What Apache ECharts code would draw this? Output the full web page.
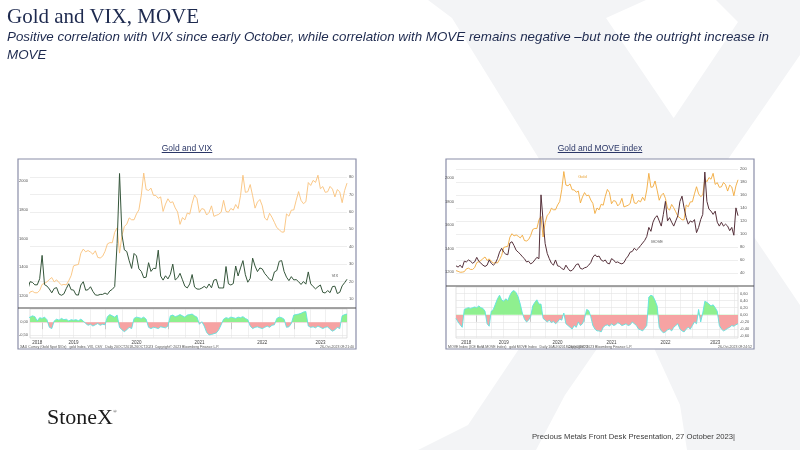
<!DOCTYPE html>
<html lang="en">
<head>
    <meta charset="UTF-8">
    <meta name="viewport" content="width=device-width, initial-scale=1.0">
    <title>Gold and VIX, MOVE</title>
    <script src="https://cdn.jsdelivr.net/npm/echarts@6.0.0/dist/echarts.min.js"></script>
    <style>
        * {
            box-sizing: border-box;
            margin: 0;
            padding: 0;
        }

        body {
            width: 800px;
            height: 450px;
            overflow: hidden;
            background: #fff;
            position: relative;
            font-family: 'Liberation Sans', Arial, sans-serif;
        }

        #chart {
            position: absolute;
            left: 0;
            top: 0;
            width: 800px;
            height: 450px;
        }

        .txt {
            position: absolute;
            white-space: nowrap;
            z-index: 2;
        }

        .title {
            left: 7px;
            top: 4px;
            font-family: 'Liberation Serif', serif;
            font-size: 21px;
            color: #1e2a4f;
        }

        .subtitle {
            display: inline-block;
            left: 7px;
            top: 28px;
            font-style: italic;
            font-size: 13.5px;
            line-height: 18px;
            color: #1e2a4f;
            transform-origin: 0 0;
        }

        .ctitle {
            top: 143px;
            font-size: 8.5px;
            color: #2b3767;
            text-decoration: underline;
            transform: translateX(-50%);
        }

        .logo {
            left: 47px;
            top: 404px;
            font-family: 'Liberation Serif', serif;
            font-size: 22px;
            color: #1b1b1b;
        }

        .logo sup {
            font-size: 5px;
            vertical-align: top;
            position: relative;
            top: 5px;
        }

        .footer {
            display: inline-block;
            left: 532px;
            top: 432px;
            font-size: 8px;
            color: #3a3a3a;
            transform-origin: 0 0;
        }
    </style>
</head>
<body>
    <div id="chart"></div>
    <div class="txt title">Gold and VIX, MOVE</div>
    <div class="txt subtitle" id="subtitle">Positive correlation with VIX since early October, while correlation with MOVE remains negative –but note the outright increase in<br>MOVE</div>
    <div class="txt ctitle" style="left:187px">Gold and VIX</div>
    <div class="txt ctitle" style="left:600px">Gold and MOVE index</div>
    <div class="txt logo">StoneX<sup>®</sup></div>
    <div class="txt footer" id="footer">Precious Metals Front Desk Presentation, 27 October 2023|</div>

    <script>
        // fortnightly observations, 10 Aug 2018 .. 27 Oct 2023
        const gold = [
            1212, 1206, 1198, 1199, 1203, 1227, 1233, 1222, 1222, 1238,
            1280, 1288, 1298, 1314, 1328, 1298, 1312, 1292, 1276, 1280,
            1277, 1305, 1341, 1409, 1415, 1419, 1497, 1526, 1507, 1516,
            1505, 1490, 1514, 1468, 1464, 1476, 1510, 1562, 1571, 1570,
            1643, 1673, 1498, 1620, 1683, 1700, 1743, 1730, 1730, 1771,
            1799, 1902, 2055, 1940, 1934, 1950, 1900, 1899, 1879, 1889,
            1788, 1839, 1876, 1849, 1855, 1813, 1784, 1698, 1745, 1729,
            1777, 1769, 1844, 1903, 1877, 1781, 1808, 1802, 1763, 1781,
            1827, 1754, 1761, 1768, 1783, 1865, 1788, 1783, 1809, 1797,
            1836, 1808, 1898, 2040, 1921, 1925, 1975, 1897, 1811, 1853,
            1871, 1827, 1742, 1727, 1775, 1747, 1712, 1675, 1661, 1644,
            1645, 1771, 1755, 1797, 1798, 1865, 1926, 1865, 1842, 1856,
            1989, 1969, 2004, 1990, 2040, 1946, 1961, 1921, 1925, 1962,
            1943, 1889, 1940, 1924, 1849, 1933, 1985
        ];

        const vix = [
            13.2, 11.9, 14.9, 11.7, 14.8, 19.9, 19.5, 18.1, 18.1, 21.6,
            35.0, 18.2, 17.4, 15.7, 13.5, 16.0, 16.5, 12.8, 12.1, 12.9,
            16.0, 18.7, 15.3, 15.1, 12.4, 12.2, 18.0, 19.9, 15.0, 15.3,
            17.0, 14.3, 12.3, 12.1, 12.6, 12.6, 13.4, 12.6, 14.6, 15.5,
            17.1, 41.9, 82.0, 46.8, 38.2, 37.2, 31.9, 27.5, 36.1, 34.7,
            27.3, 25.8, 22.2, 22.5, 30.8, 25.8, 27.6, 27.4, 38.0, 23.1,
            20.8, 23.3, 21.5, 24.1, 30.0, 20.9, 22.1, 24.7, 21.0, 17.3,
            16.3, 18.6, 24.0, 16.8, 15.7, 15.6, 16.2, 17.2, 16.2, 18.6,
            16.4, 20.8, 21.2, 16.3, 16.3, 16.3, 28.6, 18.7, 18.0, 18.8,
            28.9, 23.2, 27.8, 32.0, 23.9, 19.6, 21.8, 33.4, 28.9, 25.7,
            27.8, 27.2, 24.6, 23.0, 21.2, 20.6, 25.5, 26.3, 31.6, 32.0,
            25.8, 22.5, 20.5, 22.8, 20.9, 21.1, 19.9, 18.3, 20.0, 18.5,
            25.5, 18.7, 17.1, 15.8, 17.0, 18.0, 13.8, 13.4, 14.8, 13.6,
            17.1, 17.3, 13.1, 13.8, 17.5, 19.3, 21.3
        ];

        const move = [
            51, 49, 52, 48, 58, 57, 60, 58, 55, 57,
            64, 58, 55, 52, 50, 52, 60, 55, 52, 55,
            62, 72, 78, 72, 69, 68, 86, 88, 82, 75,
            72, 69, 65, 62, 57, 58, 54, 56, 60, 64,
            62, 160, 120, 85, 70, 62, 55, 52, 60, 51,
            50, 47, 45, 52, 47, 43, 44, 48, 53, 54,
            47, 46, 48, 49, 52, 56, 64, 68, 65, 66,
            60, 58, 60, 55, 54, 62, 60, 56, 57, 55,
            54, 56, 62, 66, 72, 73, 78, 75, 78, 82,
            86, 90, 96, 110, 104, 118, 125, 128, 120, 112,
            130, 150, 120, 125, 118, 112, 120, 128, 150, 158,
            140, 125, 115, 120, 118, 122, 102, 110, 122, 130,
            195, 150, 138, 135, 130, 135, 118, 112, 118, 112,
            115, 112, 105, 110, 98, 140, 128
        ];

        const corrVix = [
            0.05, 0.1, 0.12, 0.08, 0.15, 0.2, 0.25, 0.22, 0.05, 0.18,
            0.15, 0.2, 0.1, -0.2, -0.25, 0.05, 0.12, 0.08, 0.15, 0.1,
            0.12, 0.05, 0.1, 0.08, 0.1, 0.06, 0.12, 0.05, -0.05, -0.12,
            -0.08, -0.15, -0.1, -0.05, -0.12, -0.08, -0.1, 0.22, 0.3, 0.25,
            0.2, 0.28, -0.2, -0.3, -0.37, -0.3, -0.2, -0.25, 0.15, 0.2,
            0.18, 0.15, 0.2, 0.12, -0.2, -0.25, -0.2, -0.22, -0.25, -0.18,
            -0.2, -0.22, -0.15, 0.25, 0.28, 0.22, 0.25, 0.3, 0.25, 0.2,
            0.28, 0.3, 0.32, 0.25, 0.2, -0.08, 0.02, -0.15, -0.4, -0.5,
            -0.48, -0.45, -0.42, -0.3, -0.1, 0.12, 0.18, 0.15, 0.2, 0.18,
            0.15, 0.2, 0.18, 0.22, 0.15, 0.1, -0.15, -0.25, -0.2, -0.18,
            -0.22, -0.25, -0.2, -0.15, -0.2, -0.12, -0.1, 0.15, 0.2, 0.18,
            0.12, -0.2, -0.18, -0.05, 0.28, 0.3, 0.32, 0.35, 0.4, 0.42,
            -0.15, -0.2, -0.18, -0.22, -0.15, -0.2, -0.25, -0.2, -0.18, -0.28,
            -0.35, -0.3, -0.2, -0.25, 0.25, 0.3, 0.32
        ];

        const corrMove = [
            -0.1, -0.2, -0.28, -0.35, 0.15, 0.18, 0.2, 0.18, 0.2, 0.22,
            0.2, 0.25, 0.2, 0.18, 0.1, -0.25, -0.32, 0.1, 0.15, 0.3,
            0.45, 0.55, 0.42, 0.38, 0.45, 0.4, 0.55, 0.65, 0.68, 0.62,
            0.5, 0.3, 0.05, -0.12, -0.2, -0.15, -0.05, 0.25, 0.35, 0.42,
            0.3, 0.3, -0.1, -0.15, -0.2, -0.15, -0.22, -0.18, -0.25, -0.2,
            -0.12, -0.15, 0.05, -0.25, -0.3, -0.35, -0.4, -0.3, -0.35, -0.2,
            -0.3, -0.25, -0.1, 0.15, 0.12, -0.05, -0.3, -0.4, -0.45, -0.45,
            -0.48, -0.35, -0.3, -0.28, -0.32, -0.25, -0.3, -0.28, -0.22, -0.25,
            -0.3, -0.28, -0.25, -0.3, -0.28, -0.2, -0.25, -0.3, -0.4, -0.42,
            -0.45, -0.38, -0.3, 0.5, 0.55, 0.52, 0.4, 0.25, -0.35, -0.45,
            -0.5, -0.48, -0.42, -0.4, -0.45, -0.35, -0.3, -0.25, -0.4, -0.45,
            -0.48, -0.4, -0.35, -0.4, -0.3, -0.2, -0.25, 0.15, -0.2, 0.05,
            0.38, 0.35, 0.3, 0.25, 0.28, 0.2, 0.1, -0.3, -0.4, -0.45,
            -0.42, -0.38, -0.35, -0.3, -0.32, -0.28, -0.25
        ];

        // tick labels
        const goldTicks = [1200, 1400, 1600, 1800, 2000];
        const vixTicks = [10, 20, 30, 40, 50, 60, 70, 80];
        const moveTicks = [40, 60, 80, 100, 120, 140, 160, 180, 200];
        const corrVixTicks = [-0.5, 0];
        const corrMoveTicks = [-0.6, -0.4, -0.2, 0, 0.2, 0.4, 0.6];

        // category indexes for year separators, year labels and quarter lines
        const yearStartIdx = [10, 36, 62, 88, 114];
        const vixYearLabelIdx = [8, 23, 49, 75, 101, 125];
        const moveYearLabelIdx = [5, 23, 49, 75, 101, 125];
        const quarterIdx = [4, 10, 17, 23, 30, 36, 43, 49, 56, 62, 69, 75, 82, 88, 95, 101, 108, 114, 121, 127, 134];

        const dates = [];
        const t0 = Date.UTC(2018, 7, 10);
        for (let i = 0; i < gold.length; i++) {
            dates.push(new Date(t0 + i * 14 * 864e5).toISOString().slice(0, 10));
        }

        const tiny = { fontSize: 4, color: '#555', fontFamily: 'Liberation Sans' };
        const comma = v => v.toFixed(2).replace('.', ',');
        const posColor = '#8ff08f';
        const negColor = '#f6a3a3';

        function gridLines(vals) {
            return {
                silent: true,
                z: 1,
                symbol: 'none',
                animation: false,
                label: { show: false },
                lineStyle: { color: '#e3e3e3', width: 0.6, type: 'solid' },
                emphasis: { disabled: true },
                data: vals.map(v => ({ yAxis: v }))
            };
        }

        function tag(text, color, idx, value) {
            return {
                symbol: 'circle',
                symbolSize: 0.1,
                silent: true,
                label: { show: true, position: 'inside', formatter: text, fontSize: 4, color: color },
                data: [{ coord: [dates[idx], value] }]
            };
        }

        function mainX(grid, min) {
            return { gridIndex: grid, type: 'category', data: dates, boundaryGap: false, min: min, show: false };
        }

        function lowerX(grid, min, labelIdx) {
            return {
                gridIndex: grid,
                type: 'category',
                data: dates,
                boundaryGap: false,
                min: min,
                axisLine: { show: false },
                axisTick: {
                    show: true,
                    interval: i => yearStartIdx.includes(i),
                    length: 7,
                    lineStyle: { color: '#aaa', width: 0.6 }
                },
                axisLabel: {
                    interval: i => labelIdx.includes(i),
                    formatter: v => v.slice(0, 4),
                    fontSize: 4.5,
                    color: '#444',
                    margin: 2
                },
                splitLine: {
                    show: true,
                    interval: i => quarterIdx.includes(i),
                    lineStyle: { color: '#e6e6e6', width: 0.6 }
                }
            };
        }

        function yAx(grid, pos, min, max, ticks, fmt) {
            return {
                gridIndex: grid,
                type: 'value',
                position: pos,
                min: min,
                max: max,
                axisLine: { show: false },
                axisTick: { show: false },
                splitLine: { show: false },
                axisLabel: Object.assign({}, tiny, {
                    customValues: ticks,
                    margin: 2,
                    formatter: fmt || (v => String(v))
                })
            };
        }

        function corrSeries(xi, yi, data, ticks) {
            return [{
                type: 'line',
                xAxisIndex: xi,
                yAxisIndex: yi,
                data: data,
                symbol: 'none',
                lineStyle: { width: 0 },
                areaStyle: { opacity: 1 },
                markLine: gridLines(ticks)
            }, {
                type: 'line',
                xAxisIndex: xi,
                yAxisIndex: yi,
                data: data,
                symbol: 'none',
                lineStyle: { color: '#5fe3e0', width: 0.9 }
            }];
        }

        function signMap(seriesIndex) {
            return {
                type: 'piecewise',
                show: false,
                seriesIndex: seriesIndex,
                dimension: 1,
                pieces: [
                    { gt: 0, lte: 1, color: posColor },
                    { gte: -1, lte: 0, color: negColor }
                ],
                outOfRange: { color: negColor }
            };
        }

        const watermarkA = [[428, 0], [646, 0], [606, 18], [800, 305], [800, 450], [687, 450], [680, 405], [648, 335], [452, 18]];
        const watermarkB = [[716, 0], [800, 0], [800, 55], [565, 395], [536, 450], [418, 450], [468, 425], [738, 22]];

        function footText(x, text, align) {
            return {
                type: 'text',
                x: x,
                y: 347,
                z: 20,
                silent: true,
                style: { text: text, fontSize: 3.5, fill: '#555', align: align, verticalAlign: 'middle', fontFamily: 'Liberation Sans' }
            };
        }

        const chart = echarts.init(document.getElementById('chart'));

        const option = {
            animation: false,
            textStyle: { fontFamily: 'Liberation Sans' },
            grid: [
                { left: 30, right: 453, top: 162, height: 146 },
                { left: 30, right: 453, top: 309, height: 29, show: true, borderColor: '#cfcfcf', borderWidth: 0.6 },
                { left: 456, right: 62, top: 161, height: 125 },
                { left: 456, right: 62, top: 287, height: 51, show: true, borderColor: '#cfcfcf', borderWidth: 0.6 }
            ],
            xAxis: [
                mainX(0, 5),
                lowerX(1, 5, vixYearLabelIdx),
                mainX(2, 0),
                lowerX(3, 0, moveYearLabelIdx)
            ],
            yAxis: [
                yAx(0, 'left', 1116, 2132, goldTicks),
                yAx(0, 'right', 4.8, 88.6, vixTicks),
                yAx(1, 'left', -0.62, 0.52, corrVixTicks, comma),
                yAx(2, 'left', 1081, 2145, goldTicks),
                yAx(2, 'right', 20, 212, moveTicks),
                yAx(3, 'right', -0.65, 0.78, corrMoveTicks, comma)
            ],
            visualMap: [signMap(2), signMap(6)],
            series: [
                {
                    name: 'Gold', type: 'line', xAxisIndex: 0, yAxisIndex: 0, data: gold, symbol: 'none',
                    lineStyle: { color: '#f9c27a', width: 0.9 }
                },
                {
                    name: 'VIX', type: 'line', xAxisIndex: 0, yAxisIndex: 1, data: vix, symbol: 'none',
                    lineStyle: { color: '#34553a', width: 1 },
                    markLine: gridLines(vixTicks),
                    markPoint: tag('VIX', '#555', 131, 23.5)
                },
                ...corrSeries(1, 2, corrVix, corrVixTicks),
                {
                    name: 'Gold', type: 'line', xAxisIndex: 2, yAxisIndex: 3, data: gold, symbol: 'none',
                    lineStyle: { color: '#f2a93b', width: 0.9 },
                    markPoint: tag('Gold', '#e8a030', 61, 2010)
                },
                {
                    name: 'MOVE', type: 'line', xAxisIndex: 2, yAxisIndex: 4, data: move, symbol: 'none',
                    lineStyle: { color: '#55303a', width: 1 },
                    markLine: gridLines(moveTicks),
                    markPoint: tag('MOVE', '#555', 97, 88)
                },
                ...corrSeries(3, 5, corrMove, corrMoveTicks)
            ],
            graphic: [
                { type: 'polygon', z: -10, silent: true, shape: { points: watermarkA }, style: { fill: '#f3f4f6' } },
                { type: 'polygon', z: -10, silent: true, shape: { points: watermarkB }, style: { fill: '#f3f4f6' } },
                { type: 'rect', z: -5, silent: true, shape: { x: 18, y: 159, width: 338, height: 190 }, style: { fill: '#fff', stroke: '#8a8ea8', lineWidth: 1.2 } },
                { type: 'rect', z: -5, silent: true, shape: { x: 446, y: 159, width: 308, height: 190 }, style: { fill: '#fff', stroke: '#8a8ea8', lineWidth: 1.2 } },
                { type: 'line', z: 50, silent: true, shape: { x1: 18, y1: 308, x2: 356, y2: 308 }, style: { stroke: '#4a4a4a', lineWidth: 1.2 } },
                { type: 'line', z: 50, silent: true, shape: { x1: 446, y1: 286, x2: 754, y2: 286 }, style: { stroke: '#4a4a4a', lineWidth: 1.2 } },
                footText(20, 'XAU Curncy (Gold Spot $/Oz)   gold Index, VIX, CSV   Daily 20OCT2018-26OCT2023', 'left'),
                footText(187, 'Copyright© 2023 Bloomberg Finance L.P.', 'center'),
                footText(354, '26-Oct-2023 09:21:40', 'right'),
                footText(448, 'MOVE Index (ICE BofA MOVE Index)   gold MOVE Index   Daily 10AUG2018-26OCT2023', 'left'),
                footText(600, 'Copyright© 2023 Bloomberg Finance L.P.', 'center'),
                footText(752, '26-Oct-2023 09:24:52', 'right')
            ]
        };

        chart.setOption(option);

        // squeeze the slide texts to the widths they take on the slide
        function fitWidth(id, target) {
            const el = document.getElementById(id);
            const w = el.getBoundingClientRect().width;
            if (w > 0) el.style.transform = 'scaleX(' + (target / w) + ')';
        }
        fitWidth('subtitle', 762);
        fitWidth('footer', 203);

        window.addEventListener('resize', function() {
            chart.resize();
        });
    </script>
</body>
</html>
